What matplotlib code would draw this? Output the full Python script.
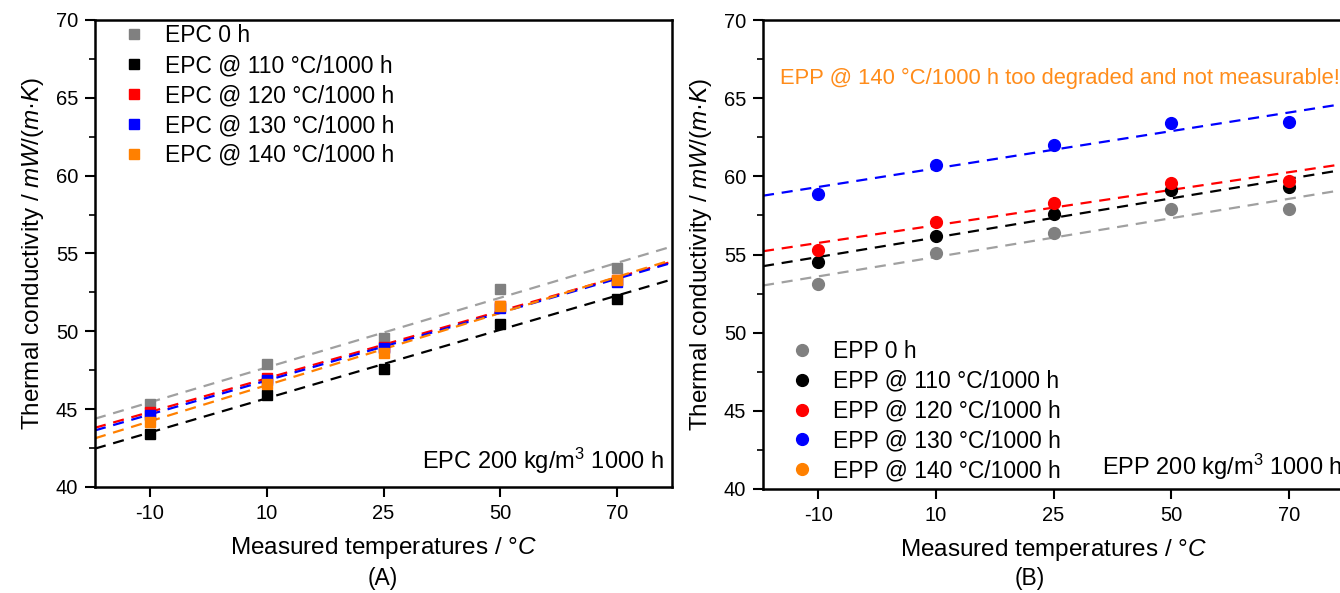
import numpy as np
import matplotlib
matplotlib.use("Agg")
import matplotlib.pyplot as plt
from matplotlib.ticker import MultipleLocator

plt.rcParams['font.family'] = ['Liberation Sans', 'DejaVu Sans']
plt.rcParams['mathtext.fontset'] = 'custom'
plt.rcParams['mathtext.rm'] = 'Liberation Sans'
plt.rcParams['mathtext.it'] = 'Liberation Sans:italic'

temps = ['-10', '10', '25', '50', '70']

# Panel A (EPC)
epc_labels = ['EPC 0 h', 'EPC @ 110 °C/1000 h', 'EPC @ 120 °C/1000 h',
              'EPC @ 130 °C/1000 h', 'EPC @ 140 °C/1000 h']
epc_0 = [45.3, 47.9, 49.6, 52.7, 54.1]
epc_110 = [43.4, 45.9, 47.6, 50.5, 52.1]
epc_120 = [44.8, 47.0, 49.0, 51.6, 53.3]
epc_130 = [44.6, 46.9, 48.9, 51.5, 53.2]
epc_140 = [44.2, 46.6, 48.6, 51.6, 53.3]

# Panel B (EPP)
epp_labels = ['EPP 0 h', 'EPP @ 110 °C/1000 h', 'EPP @ 120 °C/1000 h',
              'EPP @ 130 °C/1000 h', 'EPP @ 140 °C/1000 h']
epp_0 = [53.1, 55.1, 56.4, 57.9, 57.9]
epp_110 = [54.5, 56.2, 57.6, 59.1, 59.3]
epp_120 = [55.3, 57.1, 58.3, 59.6, 59.7]
epp_130 = [58.9, 60.7, 62.0, 63.4, 63.5]
epp_140 = []  # too degraded, not measurable

colors = ['#808080', '#000000', '#ff0000', '#0000ff', '#ff8000']
line_colors = ['#a0a0a0', '#000000', '#ff0000', '#0000ff', '#ff8000']

fig = plt.figure(figsize=(13.4, 5.93), dpi=100)
axA = fig.add_axes([95/1340, 106/593, 577/1340, 467/593])
axB = fig.add_axes([763/1340, 104/593, 581/1340, 469/593])

pos = np.arange(1, len(temps) + 1)
xlim = (0.53, 5.47)


def style(ax):
    ax.set_xlim(*xlim)
    ax.set_ylim(40, 70)
    ax.set_xticks(pos)
    ax.set_xticklabels(temps)
    ax.yaxis.set_major_locator(MultipleLocator(5))
    ax.yaxis.set_minor_locator(MultipleLocator(2.5))
    ax.tick_params(axis='both', which='major', direction='out', length=7, width=1.5,
                   labelsize=14.5, top=False, right=False, pad=5)
    ax.tick_params(axis='y', which='minor', direction='out', length=4, width=1.2)
    for s in ax.spines.values():
        s.set_linewidth(1.8)
    ax.set_xlabel('Measured temperatures / $\\mathit{°C}$', fontsize=17.5, labelpad=9)
    ax.set_ylabel('Thermal conductivity / $\\mathit{mW/(m·K)}$', fontsize=17.5, labelpad=7)


def draw(ax, series, labels, marker, ms):
    xx = np.array(xlim)
    for vals, lab, c, lc in zip(series, labels, colors, line_colors):
        if len(vals) == 0:
            ax.plot([], [], ls='none', marker=marker, ms=ms, color=c, label=lab)
            continue
        k, b = np.polyfit(pos, vals, 1)
        ax.plot(xx, k * xx + b, ls=(0, (5, 3.5)), lw=1.6, color=lc, zorder=2)
    for vals, lab, c in zip(series, labels, colors):
        if len(vals) == 0:
            continue
        ax.plot(pos, vals, ls='none', marker=marker, ms=ms, color=c, label=lab, zorder=3)


draw(axA, [epc_0, epc_110, epc_120, epc_130, epc_140], epc_labels, 's', 7.5)
draw(axB, [epp_0, epp_110, epp_120, epp_130, epp_140], epp_labels, 'o', 8.5)

for ax in (axA, axB):
    style(ax)

hA, lA = axA.get_legend_handles_labels()
axA.legend([hA[lA.index(l)] for l in epc_labels], epc_labels, loc='upper left',
           frameon=False, fontsize=16.5, handletextpad=0.75, labelspacing=0.3,
           borderaxespad=0.2, handlelength=1.2, bbox_to_anchor=(0.02, 1.02))
hB, lB = axB.get_legend_handles_labels()
axB.legend([hB[lB.index(l)] for l in epp_labels], epp_labels, loc='lower left',
           frameon=False, fontsize=16.5, handletextpad=0.75, labelspacing=0.3,
           borderaxespad=0.2, handlelength=1.2, bbox_to_anchor=(0.02, -0.015))

axA.text(0.985, 0.055, 'EPC 200 kg/m$^3$ 1000 h', transform=axA.transAxes,
         ha='right', va='center', fontsize=17)
axB.text(0.997, 0.047, 'EPP 200 kg/m$^3$ 1000 h', transform=axB.transAxes,
         ha='right', va='center', fontsize=17)
axB.text(0.03, 0.876, 'EPP @ 140 °C/1000 h too degraded and not measurable!',
         transform=axB.transAxes, ha='left', va='center', fontsize=15.8, color='#ff8c1a')

fig.text(383/1340, 1 - 579/593, '(A)', ha='center', va='center', fontsize=16.5)
fig.text(1030/1340, 1 - 579/593, '(B)', ha='center', va='center', fontsize=16.5)

fig.savefig('out.png', dpi=100)
